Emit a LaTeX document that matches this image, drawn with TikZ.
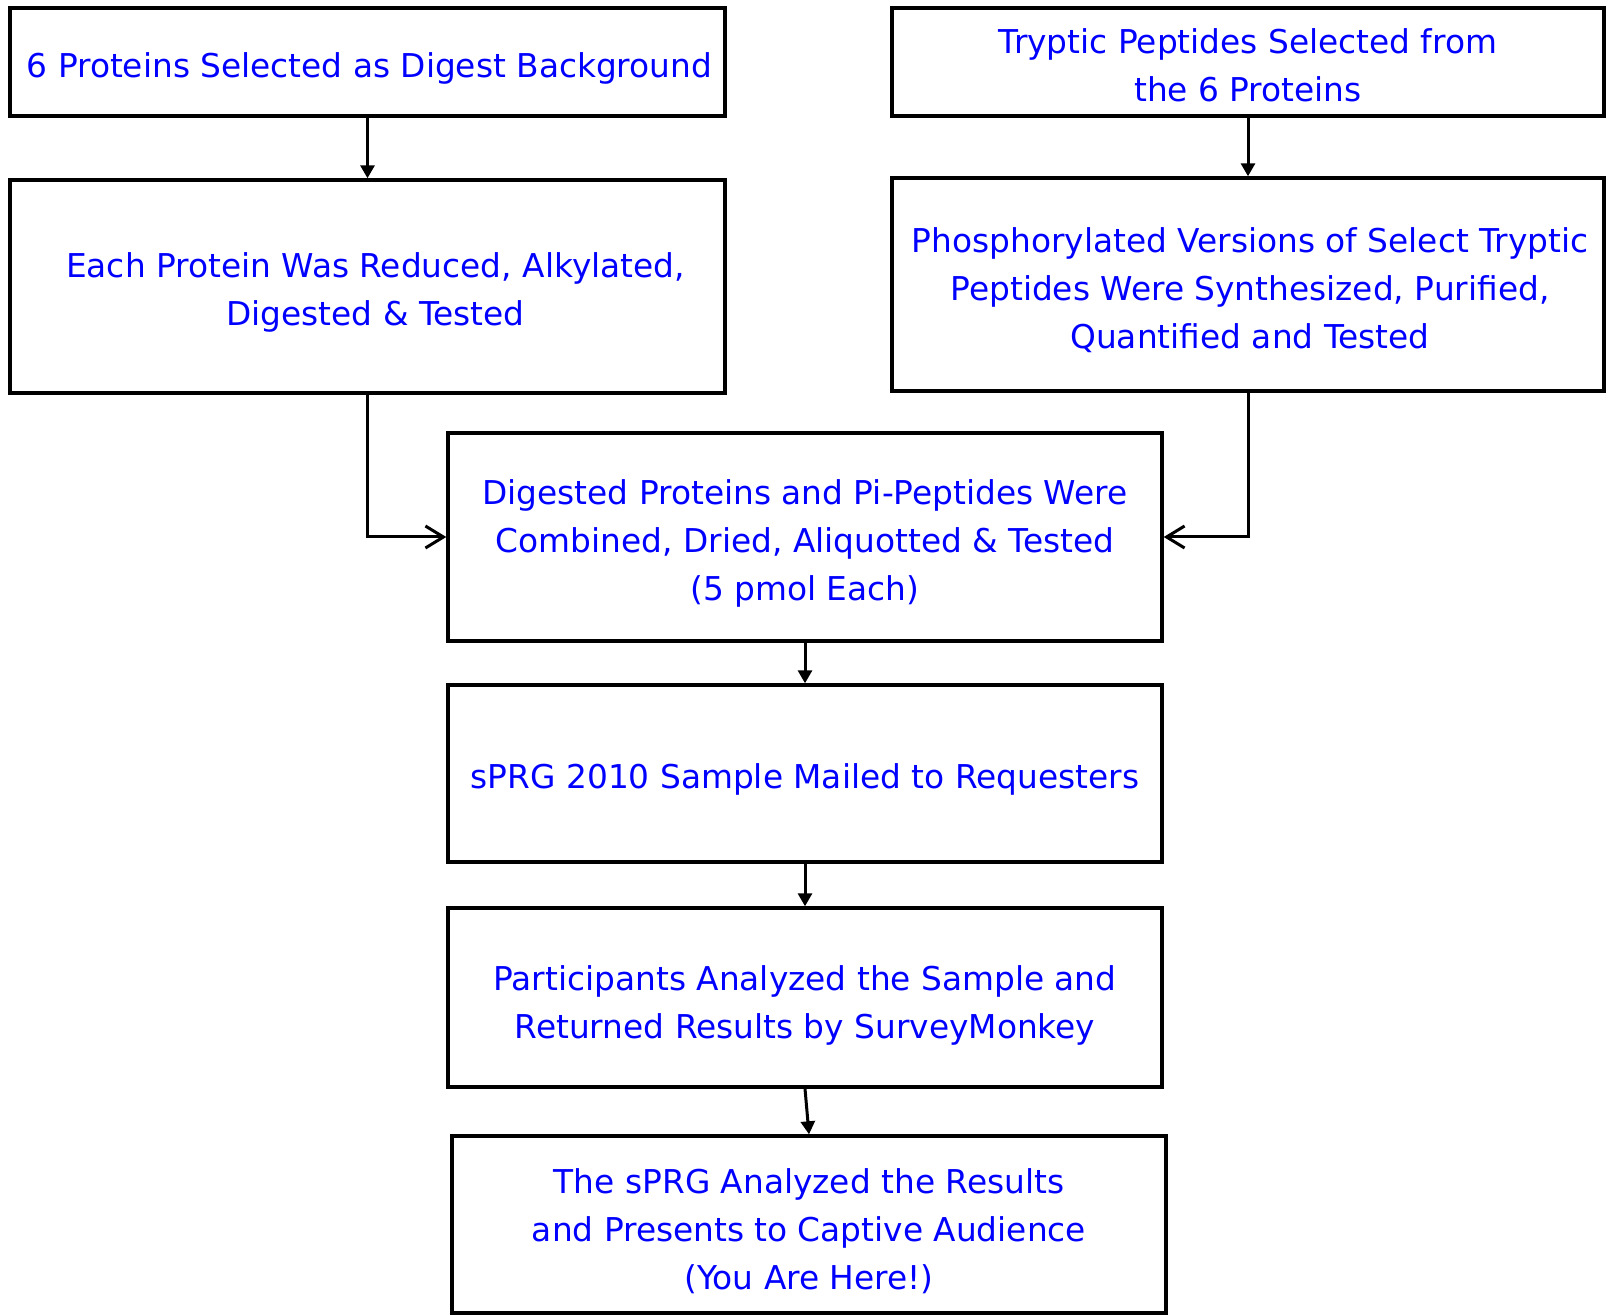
\documentclass[tikz,border=0pt]{standalone}
\usepackage{fontspec}
\setmainfont{DejaVu Sans}
\usetikzlibrary{arrows.meta}
\definecolor{txtblue}{RGB}{0,0,255}
\tikzset{
  flowbox/.style={draw=black, line width=1.7pt, rectangle, inner sep=0pt},
  boxtext/.style={inner sep=0pt, align=center, text=txtblue, font=\fontsize{16.4}{24}\selectfont},
  fillarrow/.style={draw=black, line width=1.5pt, -{Triangle[width=7pt,length=6.5pt]}},
  openarrow/.style={draw=black, line width=1.5pt, -{Straight Barb[length=9pt,width=11pt,line width=1.5pt]}}
}
\begin{document}
\begin{tikzpicture}[x=0.5pt,y=-0.5pt]
\useasboundingbox (0,0) rectangle (1606,1315);
\node[flowbox, minimum width=357.5pt, minimum height=54pt] (b1) at (367.5,62) {};
\node[flowbox, minimum width=357.5pt, minimum height=106.5pt] (b2) at (367.5,286.5) {};
\node[flowbox, minimum width=356pt, minimum height=54pt] (b3) at (1248,62) {};
\node[flowbox, minimum width=356pt, minimum height=106.5pt] (b4) at (1248,284.5) {};
\node[flowbox, minimum width=357pt, minimum height=104pt] (b5) at (805,537) {};
\node[flowbox, minimum width=357pt, minimum height=88.5pt] (b6) at (805,773.5) {};
\node[flowbox, minimum width=357pt, minimum height=89.5pt] (b7) at (805,997.5) {};
\node[flowbox, minimum width=357pt, minimum height=88.5pt] (b8) at (809,1224.5) {};
\node[boxtext] (t1) at ([yshift=-3pt,xshift=1pt]b1.center) {6 Proteins Selected as Digest Background};
\node[boxtext] (t2) at ([yshift=-3pt,xshift=4pt]b2.center) {Each Protein Was Reduced, Alkylated,\\ Digested \& Tested};
\node[boxtext] (t3) at ([yshift=-1.5pt]b3.center) {Tryptic Peptides Selected from\\ the 6 Proteins};
\node[boxtext] (t4) at ([yshift=-2.8pt,xshift=1pt]b4.center) {Phosphorylated Versions of Select Tryptic\\ Peptides Were Synthesized, Purified,\\ Quantified and Tested};
\node[boxtext] (t5) at ([yshift=-3pt]b5.center) {Digested Proteins and Pi-Peptides Were\\ Combined, Dried, Aliquotted \& Tested\\ (5 pmol Each)};
\node[boxtext] (t6) at ([yshift=-3pt]b6.center) {sPRG 2010 Sample Mailed to Requesters};
\node[boxtext] (t7) at ([yshift=-4pt]b7.center) {Participants Analyzed the Sample and\\ Returned Results by SurveyMonkey};
\node[boxtext] (t8) at ([yshift=-3.2pt]b8.center) {The sPRG Analyzed the Results\\ and Presents to Captive Audience\\ (You Are Here!)};
\draw[fillarrow] (b1) -- (b2);
\draw[fillarrow] (b3) -- (b4);
\draw[openarrow] (b2.south) |- (b5.west);
\draw[openarrow] (b4.south) |- (b5.east);
\draw[fillarrow] (b5) -- (b6);
\draw[fillarrow] (b6) -- (b7);
\draw[fillarrow] (b7.south) -- (b8.north);
\end{tikzpicture}
\end{document}
